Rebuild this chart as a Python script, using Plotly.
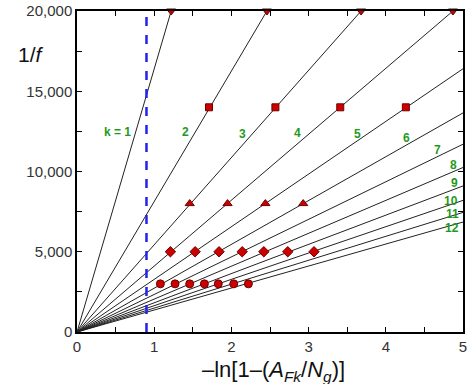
import plotly.graph_objects as go

# Line endpoints
k_labels = ["k = 1", "2", "3", "4", "5", "6", "7", "8", "9", "10", "11", "12"]
line_end_x = [1.22, 2.46, 3.68, 4.87, 5, 5, 5, 5, 5, 5, 5, 5]
line_end_y = [20000, 20000, 20000, 20000, 16400, 13650, 11700, 10250, 9100, 8200, 7450, 6850]

# k label positions
label_x = [0.53, 1.41, 2.15, 2.86, 3.63, 4.27, 4.67, 4.88, 4.89, 4.85, 4.86, 4.86]
label_y = [12480, 12480, 12340, 12400, 12340, 12070, 11340, 10400, 9300, 8150, 7350, 6500]

# Markers
tri_down_x = [1.22, 2.46, 3.68, 4.87]
tri_down_y = [20000, 20000, 20000, 20000]
square_x = [1.71, 2.57, 3.41, 4.26]
square_y = [14000, 14000, 14000, 14000]
tri_up_x = [1.46, 1.95, 2.44, 2.93]
tri_up_y = [8000, 8000, 8000, 8000]
diamond_x = [1.21, 1.53, 1.84, 2.14, 2.42, 2.73, 3.07]
diamond_y = [5000, 5000, 5000, 5000, 5000, 5000, 5000]
circle_x = [1.08, 1.27, 1.46, 1.65, 1.83, 2.03, 2.22]
circle_y = [3000, 3000, 3000, 3000, 3000, 3000, 3000]

dash_x = 0.9

x_tickvals = [0, 0.5, 1, 1.5, 2, 2.5, 3, 3.5, 4, 4.5, 5]
x_ticktext = ["0", "", "1", "", "2", "", "3", "", "4", "", "5"]
y_tickvals = [0, 2500, 5000, 7500, 10000, 12500, 15000, 17500, 20000]
y_ticktext = ["0", "", "5,000", "", "10,000", "", "15,000", "", "20,000"]

FONT = "Arial, Liberation Sans, sans-serif"
GREEN = "#1f9a1f"
RED = "#cc0000"
DARKRED = "#700000"

fig = go.Figure()

for ex, ey in zip(line_end_x, line_end_y):
    fig.add_trace(go.Scatter(x=[0, ex], y=[0, ey], mode="lines",
                             line=dict(color="#222222", width=1), showlegend=False,
                             hoverinfo="skip"))

fig.add_trace(go.Scatter(x=[dash_x, dash_x], y=[0, 20000], mode="lines",
                         line=dict(color="#2222ee", width=2.5, dash="dash"),
                         showlegend=False))

def add_markers(xs, ys, symbol, size):
    fig.add_trace(go.Scatter(x=xs, y=ys, mode="markers", cliponaxis=False,
                             marker=dict(symbol=symbol, size=size, color=RED,
                                         line=dict(color=DARKRED, width=1)),
                             showlegend=False))

add_markers(tri_down_x, tri_down_y, "triangle-down", 8)
add_markers(square_x, square_y, "square", 7)
add_markers(tri_up_x, tri_up_y, "triangle-up", 8)
add_markers(diamond_x, diamond_y, "diamond", 8)
add_markers(circle_x, circle_y, "circle", 8)

for t, lx, ly in zip(k_labels, label_x, label_y):
    fig.add_annotation(x=lx, y=ly, text="<b>%s</b>" % t, showarrow=False,
                       font=dict(family=FONT, size=12, color=GREEN))

fig.add_annotation(xref="paper", yref="paper", x=-0.158, y=0.865,
                   text="1/<i>f</i>", showarrow=False, yanchor="middle",
                   font=dict(family=FONT, size=21, color="#111111"))
fig.add_annotation(xref="paper", yref="paper", x=0.51, y=-0.123,
                   text="\u2013ln[1\u2013(<i>A</i><sub><i>Fk</i></sub>/<i>N</i><sub><i>g</i></sub>)]",
                   showarrow=False, yanchor="middle",
                   font=dict(family=FONT, size=22, color="#111111"))

axis_common = dict(showgrid=False, zeroline=False, showline=True, linecolor="black",
                   linewidth=1.5, mirror="ticks", ticks="inside", ticklen=5,
                   tickcolor="black", tickwidth=1, automargin=False,
                   tickfont=dict(family=FONT, size=15, color="#333333"))

fig.update_xaxes(range=[0, 5], tickvals=x_tickvals, ticktext=x_ticktext, **axis_common)
fig.update_yaxes(range=[0, 20000], tickvals=y_tickvals, ticktext=y_ticktext, **axis_common)

fig.update_layout(width=469, height=384, margin=dict(l=77, r=6, t=11, b=52),
                  plot_bgcolor="white", paper_bgcolor="white")

fig.write_html("out.html")
